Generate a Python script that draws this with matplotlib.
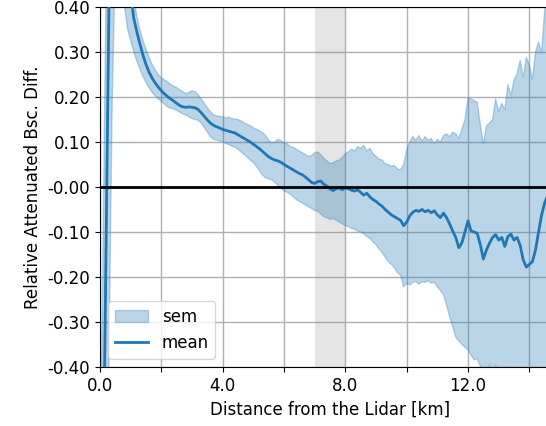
import matplotlib

matplotlib.use("Agg")
import matplotlib.pyplot as plt
import numpy as np

# distance from the lidar [km]
dist_km = [
    0.0, 0.05, 0.1, 0.15, 0.2, 0.25, 0.3, 0.35, 0.4, 0.5, 0.6, 0.7, 0.8, 0.9,
    1.0, 1.1, 1.2, 1.3, 1.4, 1.5, 1.6, 1.7, 1.8, 1.9,
    2.0, 2.1, 2.2, 2.3, 2.4, 2.5, 2.6, 2.7, 2.8, 2.9,
    3.0, 3.1, 3.2, 3.3, 3.4, 3.5, 3.6, 3.7, 3.8, 3.9,
    4.0, 4.1, 4.2, 4.3, 4.4, 4.5, 4.6, 4.7, 4.8, 4.9,
    5.0, 5.1, 5.2, 5.3, 5.4, 5.5, 5.6, 5.7, 5.8, 5.9,
    6.0, 6.1, 6.2, 6.3, 6.4, 6.5, 6.6, 6.7, 6.8, 6.9,
    7.0, 7.1, 7.2, 7.3, 7.4, 7.5, 7.6, 7.7, 7.8, 7.9,
    8.0, 8.1, 8.2, 8.3, 8.4, 8.5, 8.6, 8.7, 8.8, 8.9,
    9.0, 9.1, 9.2, 9.3, 9.4, 9.5, 9.6, 9.7, 9.8, 9.9,
    10.0, 10.1, 10.2, 10.3, 10.4, 10.5, 10.6, 10.7, 10.8, 10.9,
    11.0, 11.1, 11.2, 11.3, 11.4, 11.5, 11.6, 11.7, 11.8, 11.9,
    12.0, 12.1, 12.2, 12.3, 12.4, 12.5, 12.6, 12.7, 12.8, 12.9,
    13.0, 13.1, 13.2, 13.3, 13.4, 13.5, 13.6, 13.7, 13.8, 13.9,
    14.0, 14.1, 14.2, 14.3, 14.4, 14.5, 14.6,
]

mean_diff = [
    -3.0, -0.97, -0.685, -0.40, -0.115, 0.17, 0.455, 0.74, 1.0, 1.15, 1.1, 0.9, 0.62, 0.50,
    0.430, 0.375, 0.345, 0.318, 0.293, 0.272, 0.255, 0.242, 0.231, 0.222,
    0.214, 0.207, 0.201, 0.196, 0.191, 0.186, 0.181, 0.178, 0.177, 0.178,
    0.177, 0.176, 0.172, 0.165, 0.157, 0.149, 0.142, 0.137, 0.134, 0.131,
    0.128, 0.126, 0.124, 0.122, 0.120, 0.116, 0.112, 0.108, 0.104, 0.100,
    0.095, 0.090, 0.085, 0.079, 0.073, 0.067, 0.063, 0.060, 0.058, 0.055,
    0.050, 0.046, 0.042, 0.038, 0.034, 0.030, 0.027, 0.022, 0.016, 0.010,
    0.008, 0.012, 0.013, 0.006, 0.002, -0.004, -0.008, -0.004, -0.002, -0.006,
    -0.002, -0.004, -0.007, -0.009, -0.006, -0.012, -0.018, -0.014, -0.022, -0.028,
    -0.032, -0.038, -0.043, -0.050, -0.056, -0.062, -0.066, -0.070, -0.074, -0.086,
    -0.078, -0.064, -0.056, -0.052, -0.054, -0.050, -0.055, -0.052, -0.057, -0.053,
    -0.062, -0.068, -0.058, -0.068, -0.082, -0.098, -0.112, -0.135, -0.124, -0.100,
    -0.075, -0.098, -0.100, -0.103, -0.128, -0.160, -0.140, -0.125, -0.112, -0.106,
    -0.118, -0.112, -0.132, -0.110, -0.105, -0.118, -0.112, -0.130, -0.162, -0.178,
    -0.172, -0.166, -0.140, -0.100, -0.062, -0.035, -0.018,
]

sem_upper = [
    -2.0, -0.40, -0.115, 0.17, 0.455, 0.74, 1.0, 1.2, 1.35, 1.45, 1.35, 1.1, 0.85, 0.65,
    0.500, 0.420, 0.380, 0.350, 0.326, 0.306, 0.288, 0.272, 0.260, 0.250,
    0.243, 0.238, 0.234, 0.228, 0.224, 0.221, 0.216, 0.212, 0.208, 0.210,
    0.214, 0.212, 0.205, 0.196, 0.186, 0.176, 0.167, 0.160, 0.158, 0.157,
    0.156, 0.154, 0.155, 0.152, 0.151, 0.150, 0.147, 0.143, 0.139, 0.136,
    0.132, 0.128, 0.125, 0.121, 0.114, 0.104, 0.098, 0.100, 0.106, 0.103,
    0.098, 0.096, 0.090, 0.088, 0.084, 0.080, 0.076, 0.072, 0.068, 0.070,
    0.076, 0.078, 0.072, 0.064, 0.058, 0.052, 0.054, 0.058, 0.060, 0.066,
    0.074, 0.078, 0.084, 0.080, 0.090, 0.086, 0.093, 0.080, 0.086, 0.074,
    0.068, 0.062, 0.060, 0.052, 0.050, 0.046, 0.048, 0.040, 0.038, 0.050,
    0.082, 0.100, 0.112, 0.104, 0.114, 0.102, 0.112, 0.104, 0.108, 0.096,
    0.106, 0.100, 0.114, 0.118, 0.112, 0.122, 0.118, 0.108, 0.128, 0.150,
    0.198, 0.196, 0.192, 0.188, 0.140, 0.096, 0.136, 0.142, 0.150, 0.196,
    0.168, 0.186, 0.172, 0.228, 0.204, 0.238, 0.252, 0.282, 0.244, 0.288,
    0.270, 0.240, 0.300, 0.322, 0.300, 0.395, 0.460,
]

sem_lower = [
    -4.0, -1.77, -1.485, -1.2, -0.915, -0.63, -0.345, -0.06, 0.2, 0.5, 0.7, 0.55, 0.40, 0.35,
    0.325, 0.300, 0.280, 0.262, 0.246, 0.232, 0.220, 0.210, 0.202, 0.196,
    0.190, 0.184, 0.178, 0.175, 0.174, 0.170, 0.166, 0.162, 0.160, 0.156,
    0.152, 0.150, 0.148, 0.142, 0.132, 0.122, 0.112, 0.106, 0.104, 0.102,
    0.100, 0.097, 0.094, 0.091, 0.088, 0.084, 0.078, 0.072, 0.066, 0.060,
    0.054, 0.046, 0.036, 0.026, 0.020, 0.018, 0.016, 0.010, 0.004, -0.004,
    -0.008, -0.012, -0.016, -0.022, -0.028, -0.032, -0.036, -0.040, -0.044, -0.048,
    -0.052, -0.054, -0.060, -0.066, -0.068, -0.072, -0.070, -0.074, -0.078, -0.082,
    -0.086, -0.088, -0.092, -0.094, -0.098, -0.100, -0.104, -0.110, -0.114, -0.122,
    -0.128, -0.138, -0.146, -0.156, -0.166, -0.172, -0.180, -0.190, -0.196, -0.222,
    -0.214, -0.218, -0.212, -0.210, -0.216, -0.210, -0.212, -0.208, -0.214, -0.212,
    -0.222, -0.230, -0.240, -0.262, -0.288, -0.310, -0.334, -0.342, -0.350, -0.356,
    -0.362, -0.374, -0.384, -0.382, -0.398, -0.410, -0.420, -0.395, -0.420, -0.396,
    -0.430, -0.450, -0.460, -0.470, -0.480, -0.490, -0.500, -0.510, -0.520, -0.530,
    -0.540, -0.550, -0.560, -0.570, -0.580, -0.590, -0.600,
]

# excluded range (grey band)
span_km = (7.0, 8.0)

x_major = [0.0, 4.0, 8.0, 12.0]
x_minor = [2.0, 6.0, 10.0, 14.0]
y_ticks = [-0.4, -0.3, -0.2, -0.1, 0.0, 0.1, 0.2, 0.3, 0.4]
y_labels = ["-0.40", "-0.30", "-0.20", "-0.10", "-0.00", "0.10", "0.20", "0.30", "0.40"]

plt.rcParams["font.size"] = 12

fig = plt.figure(figsize=(5.46, 4.26), dpi=100)
ax = fig.add_axes([0.1832, 0.1385, 0.8425, 0.8451])

ax.axvspan(*span_km, color="grey", alpha=0.2, linewidth=0, zorder=1)
ax.fill_between(dist_km, sem_lower, sem_upper, color="C0", alpha=0.3, label="sem", zorder=2)
ax.plot(dist_km, mean_diff, color="C0", linewidth=2.0, label="mean", zorder=3)
ax.axhline(0.0, color="black", linewidth=2.0, zorder=4)

ax.set_xlim(0.0, 15.0)
ax.set_ylim(-0.4, 0.4)
ax.set_xticks(x_major)
ax.set_xticklabels([f"{v:.1f}" for v in x_major])
ax.set_xticks(x_minor, minor=True)
ax.set_yticks(y_ticks)
ax.set_yticklabels(y_labels)
ax.tick_params(which="minor", length=3.5, width=0.8)
ax.grid(True, which="both", color="#b0b0b0", linewidth=1.0, zorder=0)
ax.set_axisbelow(True)

ax.set_xlabel("Distance from the Lidar [km]")
ax.set_ylabel("Relative Attenuated Bsc. Diff.")
ax.legend(loc="lower left")

fig.savefig("out.png", dpi=100)
plt.close(fig)
